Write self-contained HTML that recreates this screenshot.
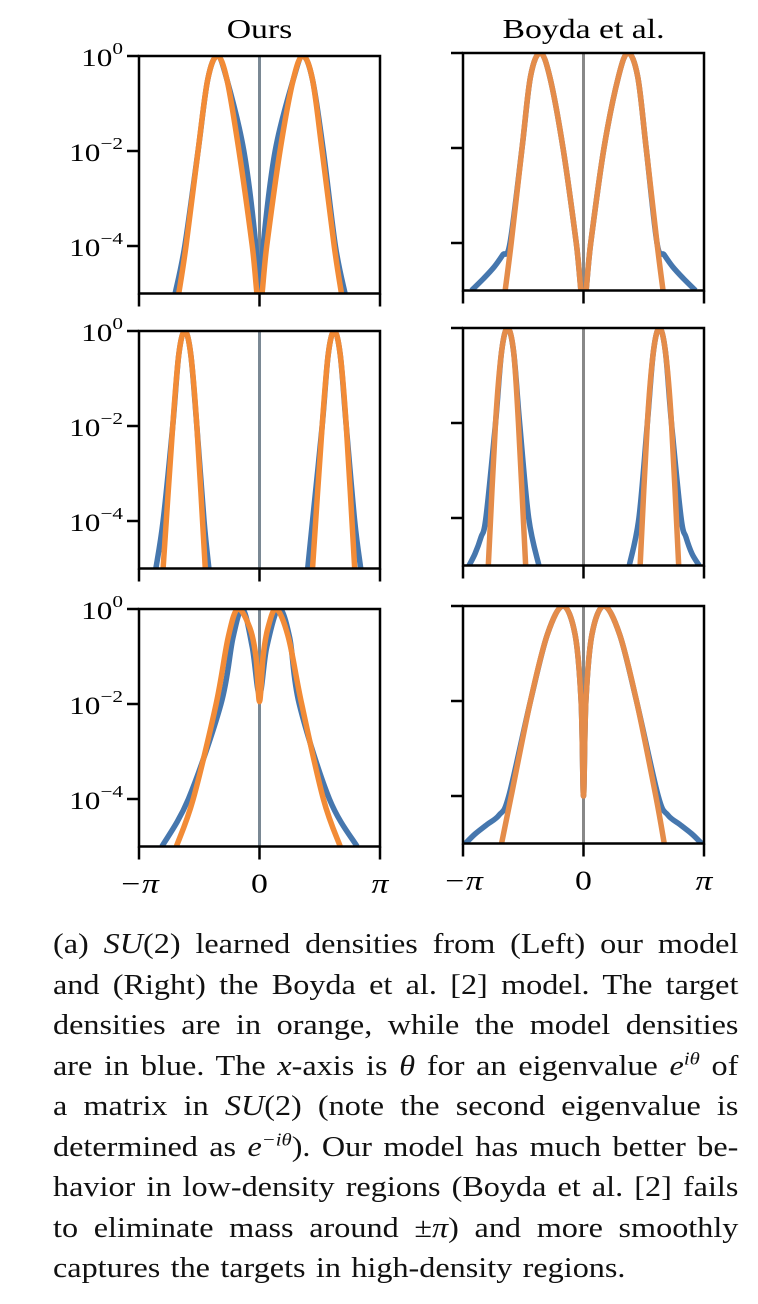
<!DOCTYPE html>
<html><head><meta charset="utf-8"><style>
html,body{margin:0;padding:0;background:#fff;}
body{width:758px;height:1304px;position:relative;overflow:hidden;font-family:"Liberation Serif",serif;}
#cap{position:absolute;left:53px;top:925px;width:596px;font-size:28px;color:#111;transform:scaleX(1.15);transform-origin:0 0;word-spacing:-3px;}
#cap div{height:40.5px;line-height:40.5px;text-align:justify;text-align-last:justify;white-space:nowrap;}
#cap div.last{text-align-last:left;word-spacing:2px;}
i{font-style:italic;}
sup{font-size:18px;line-height:0;}
</style></head><body>
<svg id="chart" width="758" height="900" style="position:absolute;left:0;top:0" xmlns="http://www.w3.org/2000/svg"></svg>
<div id="cap">
<div>(a) <i>SU</i>(2) learned densities from (Left) our model</div>
<div>and (Right) the Boyda et al. [2] model. The target</div>
<div>densities are in orange, while the model densities</div>
<div>are in blue. The <i>x</i>-axis is <i>θ</i> for an eigenvalue <i>e<sup>iθ</sup></i> of</div>
<div>a matrix in <i>SU</i>(2) (note the second eigenvalue is</div>
<div>determined as <i>e<sup>−iθ</sup></i>). Our model has much better be-</div>
<div>havior in low-density regions (Boyda et al. [2] fails</div>
<div>to eliminate mass around ±<i>π</i>) and more smoothly</div>
<div class="last">captures the targets in high-density regions.</div>
</div>
<script>
const xTickVals = [-1, 0, 1];
const xTickLabels = ['−π', '0', 'π'];
const yTickVals = [0, -2, -4];
const yTickExps = ['0', '−2', '−4'];
const colTitles = ['Ours', 'Boyda et al.'];
const yMinLog = -5;

// x in units of π, values are log10(density); null breaks a segment
const r1L_tX = [-0.67,-0.61,-0.51,-0.43,-0.35,-0.27,-0.17,-0.06,0,0.06,0.17,0.28,0.36,0.44,0.52,0.62,0.68];
const r1L_tY = [-5,-4,-2,-0.5,0,-0.5,-2,-4,-5.3,-4,-2,-0.5,0,-0.5,-2,-4,-5];
const r1L_mX = [-0.70,-0.62,-0.51,-0.43,-0.35,-0.27,-0.13,-0.03,0,0.03,0.13,0.28,0.36,0.44,0.53,0.63,0.71];
const r1L_mY = [-5,-4,-2,-0.5,0,-0.5,-2,-4,-5.3,-4,-2,-0.5,0,-0.5,-2,-4,-5];
const r1R_tX = [-0.65,-0.60,-0.51,-0.44,-0.36,-0.28,-0.17,-0.06,0,0.06,0.17,0.29,0.37,0.45,0.52,0.61,0.66];
const r1R_tY = [-5,-4,-2,-0.5,0,-0.5,-2,-4,-5.3,-4,-2,-0.5,0,-0.5,-2,-4,-5];
const r1R_mX = [-0.93,-0.83,-0.74,-0.67,-0.61,-0.51,-0.44,-0.36,-0.28,-0.17,-0.06,0,0.06,0.17,0.29,0.37,0.45,0.52,0.61,0.67,0.74,0.83,0.93];
const r1R_mY = [-5,-4.75,-4.5,-4.25,-4,-2,-0.5,0,-0.5,-2,-4,-5.3,-4,-2,-0.5,0,-0.5,-2,-4,-4.25,-4.5,-4.75,-5];

const r2L_tX = [-0.80,-0.72,-0.67,-0.62,-0.57,-0.52,-0.45,null,0.44,0.52,0.57,0.62,0.67,0.72,0.79];
const r2L_tY = [-5,-2,-0.5,0,-0.5,-2,-5,null,-5,-2,-0.5,0,-0.5,-2,-5];
const r2L_mX = [-0.86,-0.80,-0.72,-0.67,-0.62,-0.57,-0.52,-0.46,-0.42,null,0.40,0.44,0.52,0.57,0.62,0.67,0.72,0.79,0.84];
const r2L_mY = [-5,-4,-2,-0.5,0,-0.5,-2,-4,-5,null,-5,-4,-2,-0.5,0,-0.5,-2,-4,-5];
const r2R_tX = [-0.79,-0.73,-0.68,-0.63,-0.58,-0.54,-0.48,null,0.47,0.53,0.58,0.63,0.68,0.73,0.79];
const r2R_tY = [-5,-2,-0.5,0,-0.5,-2,-5,null,-5,-2,-0.5,0,-0.5,-2,-5];
const r2R_mX = [-0.95,-0.90,-0.85,-0.81,-0.73,-0.68,-0.63,-0.58,-0.53,-0.455,-0.37,null,0.38,0.46,0.53,0.58,0.63,0.68,0.73,0.81,0.85,0.90,0.96];
const r2R_mY = [-5,-4.75,-4.4,-4,-2,-0.5,0,-0.5,-2,-4,-5,null,-5,-4,-2,-0.5,0,-0.5,-2,-4,-4.4,-4.75,-5];

const r3L_tX = [-0.69,-0.55,-0.36,-0.26,-0.18,-0.08,-0.03,0,0.03,0.07,0.14,0.24,0.35,0.53,0.67];
const r3L_tY = [-5,-4,-2,-0.6,0,-0.4,-1.0,-1.95,-1.0,-0.4,0,-0.6,-2,-4,-5];
const r3L_mX = [-0.81,-0.59,-0.32,-0.22,-0.14,-0.06,0,0.06,0.16,0.25,0.33,0.58,0.81];
const r3L_mY = [-5,-4,-2,-0.6,0,-0.8,-1.8,-0.8,0,-0.6,-2,-4,-5];
const r3R_tX = [-0.68,-0.60,-0.44,-0.30,-0.17,-0.07,-0.02,0,0.02,0.07,0.17,0.30,0.44,0.60,0.67];
const r3R_tY = [-5,-4,-2,-0.6,0,-0.6,-2,-4,-2,-0.6,0,-0.6,-2,-4,-5];
const r3R_mX = [-0.98,-0.90,-0.80,-0.70,-0.62,-0.44,-0.30,-0.17,-0.07,-0.02,0,0.02,0.07,0.17,0.30,0.44,0.62,0.70,0.80,0.90,0.98];
const r3R_mY = [-5,-4.8,-4.6,-4.4,-4,-2,-0.6,0,-0.6,-2,-4,-2,-0.6,0,-0.6,-2,-4,-4.4,-4.6,-4.8,-5];

const NS = 'http://www.w3.org/2000/svg';
const svg = document.getElementById('chart');
function mk(tag, attrs, parent){
  const e = document.createElementNS(NS, tag);
  for (const k in attrs) e.setAttribute(k, attrs[k]);
  (parent||svg).appendChild(e); return e;
}
const SX = 1.25;
const panels = [
  {left:139, right:380, top:56, row:0, col:0, t:[r1L_tX,r1L_tY], m:[r1L_mX,r1L_mY]},
  {left:463, right:704, top:53, row:0, col:1, t:[r1R_tX,r1R_tY], m:[r1R_mX,r1R_mY]},
  {left:139, right:380, top:331, row:1, col:0, t:[r2L_tX,r2L_tY], m:[r2L_mX,r2L_mY]},
  {left:463, right:704, top:328, row:1, col:1, t:[r2R_tX,r2R_tY], m:[r2R_mX,r2R_mY]},
  {left:139, right:380, top:609, row:2, col:0, t:[r3L_tX,r3L_tY], m:[r3L_mX,r3L_mY]},
  {left:463, right:704, top:606, row:2, col:1, t:[r3R_tX,r3R_tY], m:[r3R_mX,r3R_mY]},
];
const decade = 47.5;
function pathFrom(xs, ys, sx, sy){
  let d = '';
  let seg = [];
  const flush = ()=>{
    if (seg.length < 2) { seg = []; return; }
    d += 'M' + seg[0][0].toFixed(2) + ',' + seg[0][1].toFixed(2);
    for (let i=0;i<seg.length-1;i++){
      const p0 = seg[Math.max(0,i-1)], p1 = seg[i], p2 = seg[i+1], p3 = seg[Math.min(seg.length-1,i+2)];
      const c1x = p1[0] + (p2[0]-p0[0])/6, c1y = p1[1] + (p2[1]-p0[1])/6;
      const c2x = p2[0] - (p3[0]-p1[0])/6, c2y = p2[1] - (p3[1]-p1[1])/6;
      d += 'C' + c1x.toFixed(2)+','+c1y.toFixed(2)+' '+c2x.toFixed(2)+','+c2y.toFixed(2)+' '+p2[0].toFixed(2)+','+p2[1].toFixed(2);
    }
    seg = [];
  };
  for (let i=0;i<xs.length;i++){
    if (xs[i]===null){ flush(); continue; }
    seg.push([sx(xs[i]), sy(ys[i])]);
  }
  flush();
  return d;
}
panels.forEach((p, idx)=>{
  const sx = v => p.left + (v+1)/2*(p.right-p.left);
  const sy = v => p.top - v*decade;
  const bottom = sy(yMinLog);
  const g = mk('g', {});
  
  
  const cp = mk('clipPath', {id:'cp'+idx});
  mk('rect', {x:p.left, y:p.top, width:p.right-p.left, height:bottom-p.top}, cp);
  const plot = mk('g', {'clip-path':'url(#cp'+idx+')'}, g);
  const gl = mk('line', {x1:sx(0), x2:sx(0), y1:p.top, y2:bottom, stroke:p.col===0?'#7a8894':'#888888', 'stroke-width':3}, plot);
  
  
  const bl = mk('path', {d:pathFrom(p.m[0], p.m[1], sx, sy), fill:'none', stroke:'#4677ae', 'stroke-width':5.5, 'stroke-linejoin':'round'}, plot);
  
  
  const ol = mk('path', {d:pathFrom(p.t[0], p.t[1], sx, sy), fill:'none', stroke:p.col===0?'#f28b36':'#e48c4a', 'stroke-width':5.5, 'stroke-linejoin':'round'}, plot);
  
  
  const fr = mk('rect', {x:p.left, y:p.top, width:p.right-p.left, height:bottom-p.top, fill:'none', stroke:'#000', 'stroke-width':2.5}, g);
  
  
  yTickVals.forEach((v, i)=>{
    const y = sy(v);
    const t = mk('line', {x1:p.left-12, x2:p.left, y1:y, y2:y, stroke:'#000', 'stroke-width':2.5}, g);
    
    
    if (p.col===0){
      const tx = mk('text', {x:0, y:0, 'text-anchor':'end', 'font-size':25, 'font-family':'Liberation Serif, serif', transform:'translate('+(p.left-16)+','+(y+10)+') scale('+SX+',1)'}, g);
      
      
      tx.textContent = '10';
      const sp = mk('tspan', {dy:-12, 'font-size':17}, tx);
      sp.textContent = yTickExps[i];
    }
  });
  xTickVals.forEach((v, i)=>{
    const x = sx(v);
    const t = mk('line', {x1:x, x2:x, y1:bottom, y2:bottom+13, stroke:'#000', 'stroke-width':2.5}, g);
    
    
    if (p.row===2){
      const tx = mk('text', {x:0, y:0, 'text-anchor':'middle', 'font-size':27, 'font-family':'Liberation Serif, serif', 'font-style':i===1?'normal':'italic', transform:'translate('+x+','+(bottom+46)+') scale('+SX+',1)'}, g);
      
      
      tx.textContent = xTickLabels[i];
    }
  });
  if (p.row===0){
    const tt = mk('text', {x:0, y:0, 'text-anchor':'middle', 'font-size':27, 'font-family':'Liberation Serif, serif', transform:'translate('+((p.left+p.right)/2)+',38) scale('+SX+',1)'}, g);
    
    
    tt.textContent = colTitles[p.col];
  }
});
</script>
</body></html>
